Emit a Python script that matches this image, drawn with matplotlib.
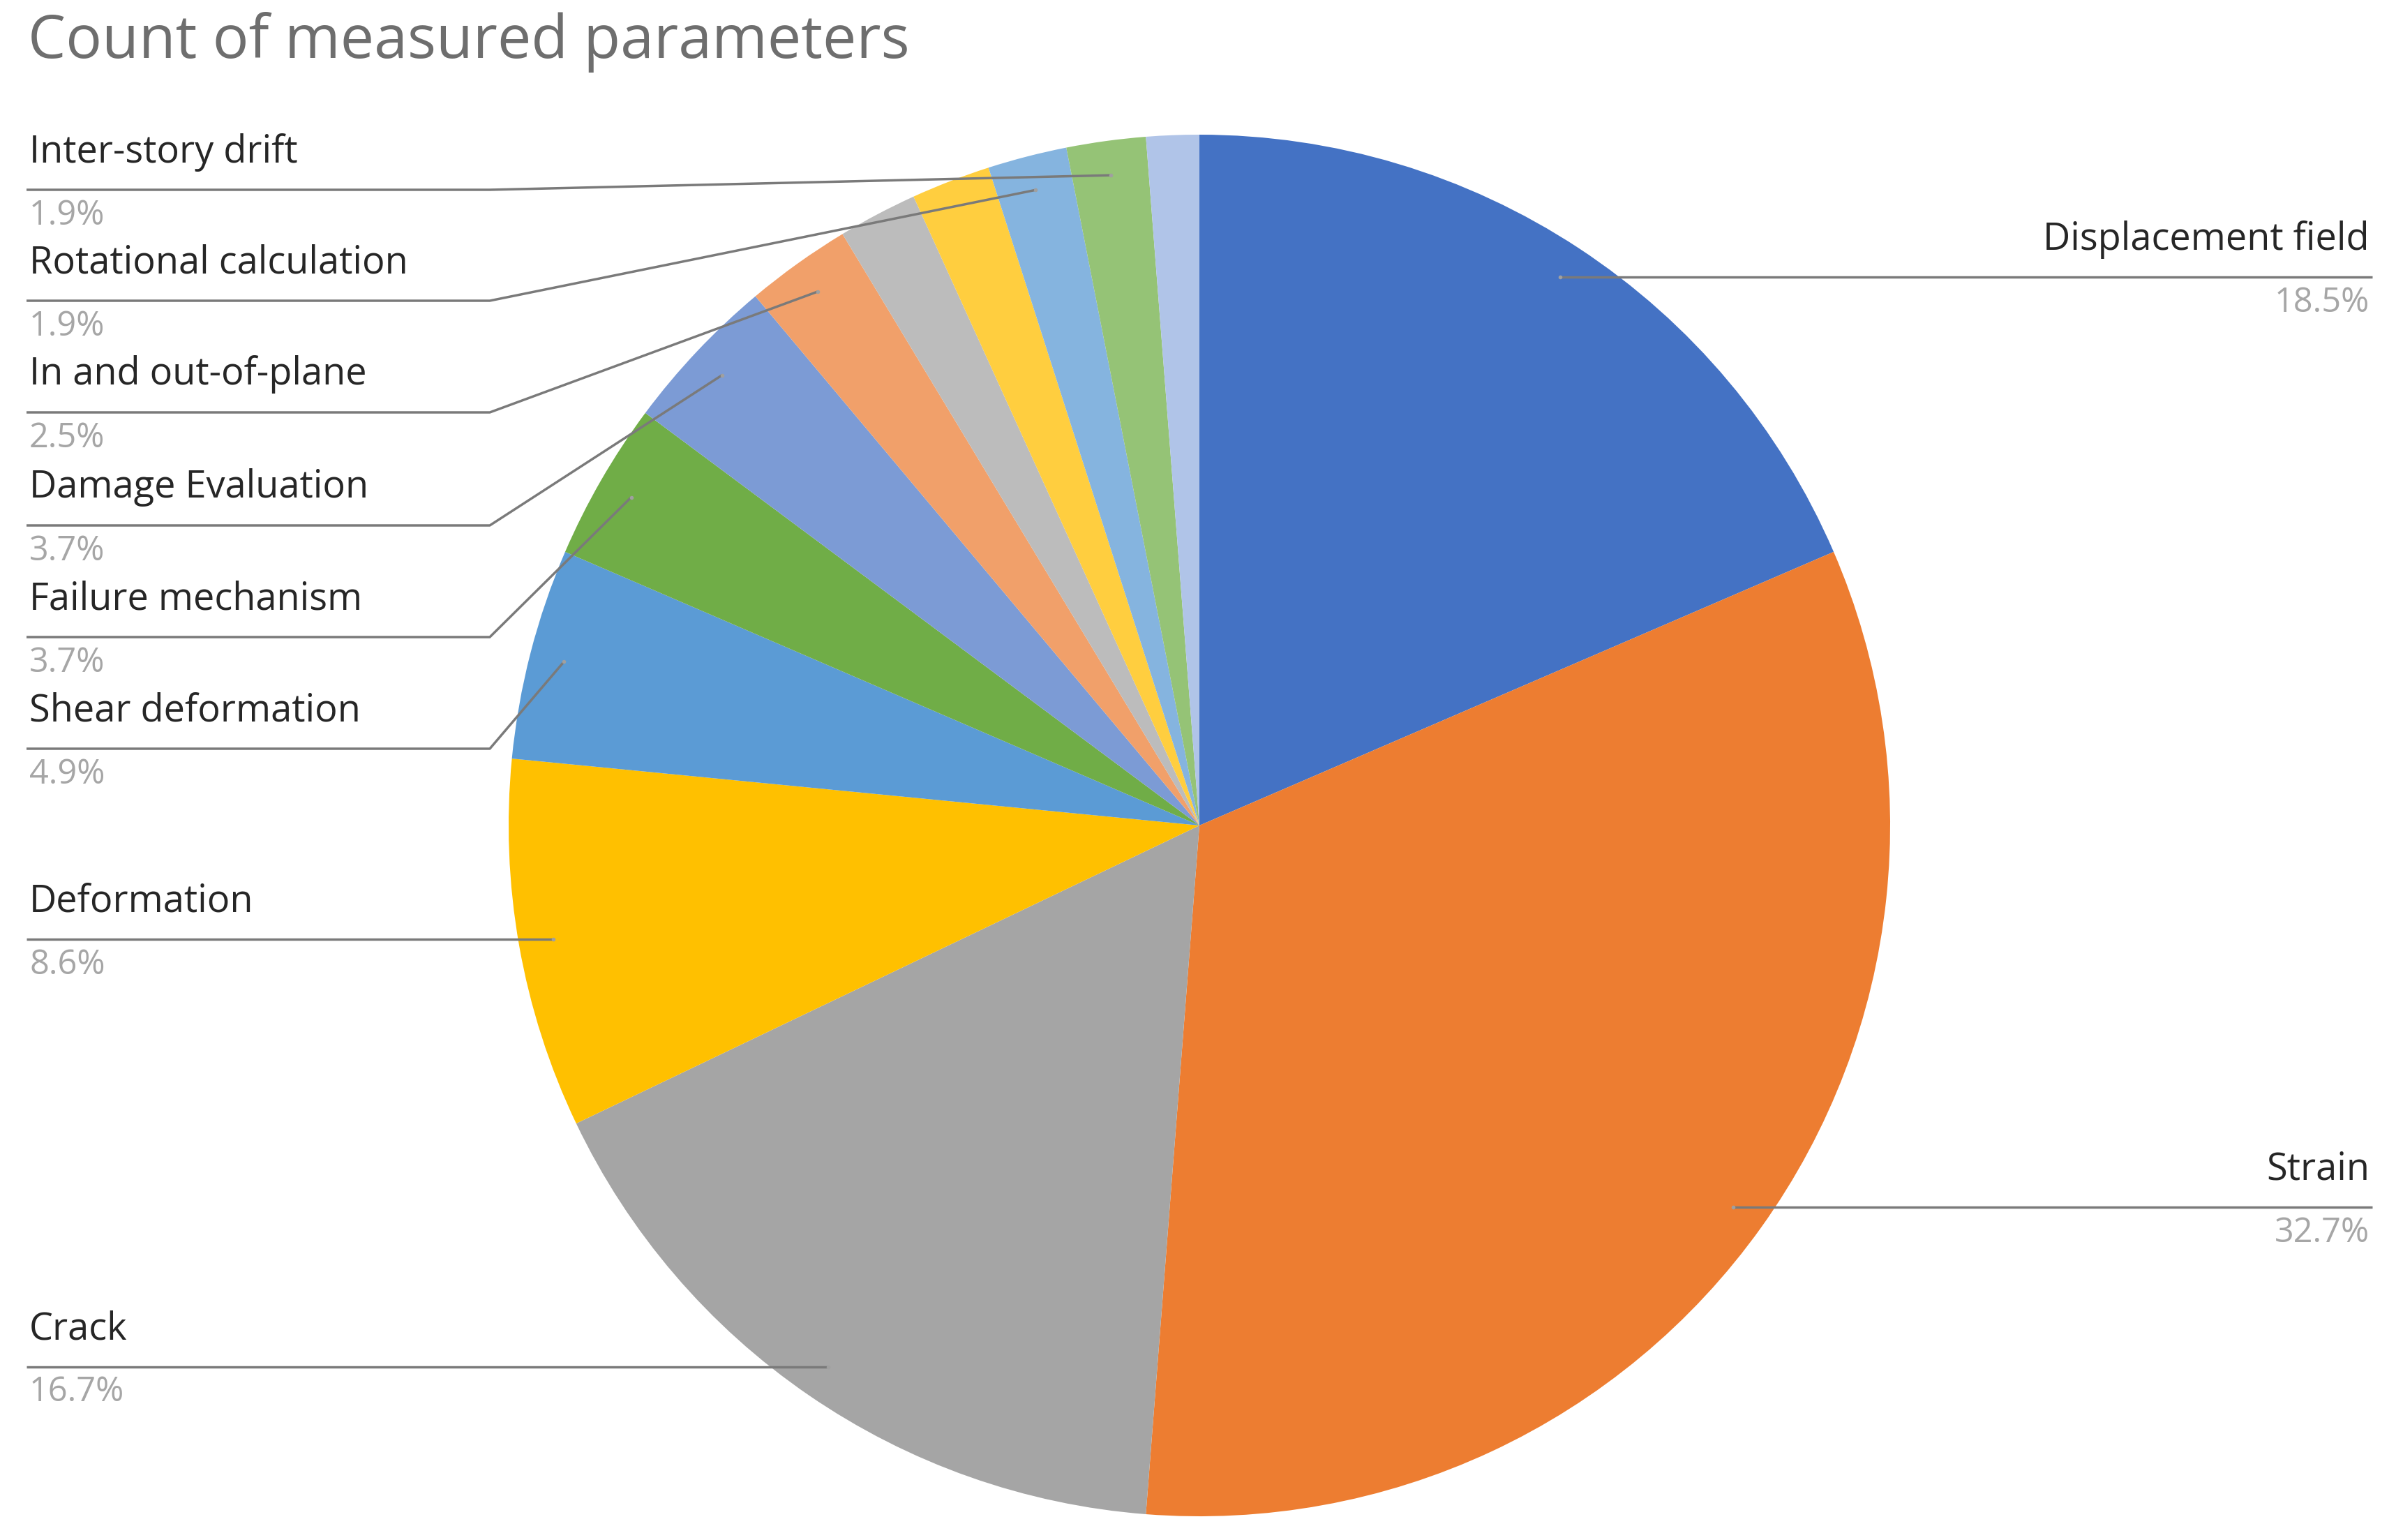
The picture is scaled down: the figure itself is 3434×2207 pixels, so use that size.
import matplotlib.pyplot as plt
import numpy as np

# ______________________________________________________________________________
# Data (counts, clockwise from 12 o'clock)

categories = ['Displacement field', 'Strain', 'Crack', 'Deformation',
              'Shear deformation', 'Failure mechanism', 'Damage Evaluation',
              'In and out-of-plane', '', '', 'Rotational calculation',
              'Inter-story drift', '']
counts = [30, 53, 27, 14, 8, 6, 6, 4, 3, 3, 3, 3, 2]
colors = ['#4472C4', '#ED7D31', '#A5A5A5', '#FFC000', '#5B9BD5', '#70AD47',
          '#7C9BD5', '#F1A06A', '#BCBCBC', '#FFCE3F', '#85B4DF', '#95C376',
          '#B0C4E8']

# ______________________________________________________________________________
# Layout in pixel units of the 3434 x 2207 canvas (y measured from the top)

W, H = 3434, 2207
cx, cy = 1719, 1183
R = 990
left_x0, left_break = 38, 702
right_x1 = 3400
# stacked left labels: category -> underline y
stack_y = {'Inter-story drift': 272, 'Rotational calculation': 431,
           'In and out-of-plane': 591, 'Damage Evaluation': 753,
           'Failure mechanism': 913, 'Shear deformation': 1073}
right_side = {'Displacement field', 'Strain'}

FONT = 'Open Sans'
name_color = '#262626'
pct_color = '#A6A6A6'
line_color = '#7A7A7A'

fig = plt.figure(figsize=(W / 100, H / 100), dpi=100)
ax = fig.add_axes([0, 0, 1, 1])


def Y(y):
    return H - y


ax.pie(counts, colors=colors, startangle=90, counterclock=False,
       center=(cx, Y(cy)), radius=R, wedgeprops=dict(linewidth=0))
ax.set_xlim(0, W)
ax.set_ylim(0, H)
ax.set_aspect('equal')
ax.axis('off')

total = float(sum(counts))
cum = np.cumsum(counts)
for i, name in enumerate(categories):
    if not name:
        continue
    mid = np.radians(360 * (cum[i] - counts[i] / 2) / total)
    px = cx + 0.95 * R * np.sin(mid)
    py = cy - 0.95 * R * np.cos(mid)
    pct = '{:.1f}%'.format(100 * counts[i] / total)

    if name in right_side:
        ax.plot([px, right_x1], [Y(py), Y(py)], color=line_color, lw=2.5,
                solid_capstyle='butt')
        tx, ha, ly = right_x1 - 4, 'right', py
    elif name in stack_y:
        ly = stack_y[name]
        ax.plot([left_x0, left_break, px], [Y(ly), Y(ly), Y(py)],
                color=line_color, lw=2.5, solid_capstyle='butt')
        tx, ha = left_x0 + 4, 'left'
    else:
        ly = py
        ax.plot([left_x0, px], [Y(ly), Y(ly)], color=line_color, lw=2.5,
                solid_capstyle='butt')
        tx, ha = left_x0 + 4, 'left'
    ax.plot(px, Y(py), 'o', color='#A0A0A0', ms=4, mew=0)
    ax.text(tx, Y(ly - 54), name, ha=ha, va='center', fontsize=39,
            family=FONT, color=name_color)
    ax.text(tx, Y(ly + 37), pct, ha=ha, va='center', fontsize=35,
            family=FONT, color=pct_color)

ax.text(40, Y(61), 'Count of measured parameters', ha='left', va='center',
        fontsize=62, family=FONT, color='#6E6E6E')

fig.savefig('out.png', dpi=100, facecolor='white')
